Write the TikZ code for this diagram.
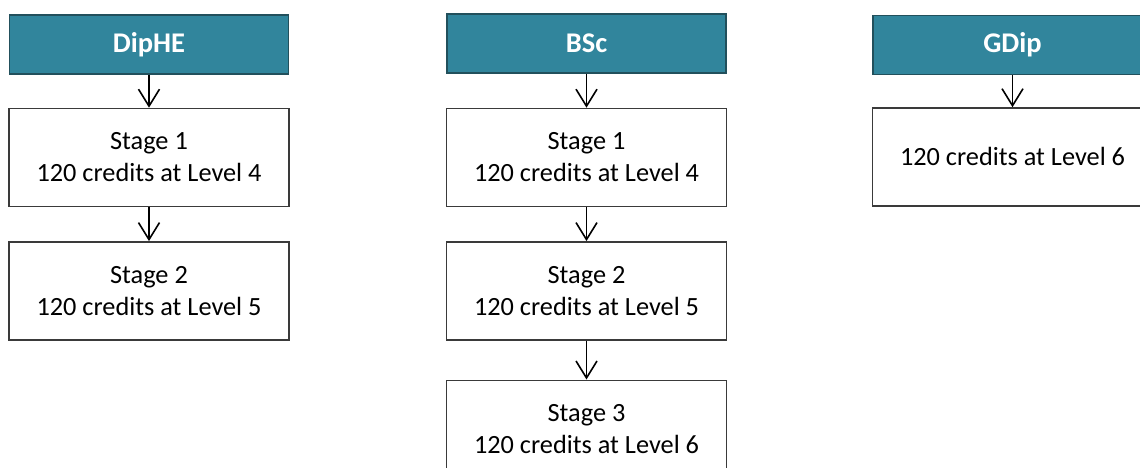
\documentclass[tikz,border=0pt]{standalone}
\usepackage{fontspec}
\setmainfont{Carlito}
\usepackage{xcolor}
\usetikzlibrary{arrows.meta,positioning}
\definecolor{awardteal}{HTML}{31859C}
\definecolor{awardedge}{HTML}{22505C}
\definecolor{boxedge}{HTML}{3A3A3A}
\tikzset{
    award/.style={draw=awardedge,fill=awardteal,line width=1.4pt,
      minimum width=279pt,minimum height=59pt,inner sep=0pt,
      text=white,font=\fontsize{28.5}{34}\selectfont\bfseries},
    stagebox/.style={draw=boxedge,fill=white,line width=1.4pt,
      minimum width=280pt,minimum height=98pt,inner sep=0pt,
      align=center,font=\fontsize{26.3}{32}\selectfont},
    flowarrow/.style={-{Straight Barb[length=17pt,width=21pt,line width=1.6pt]},
      draw=black,line width=1.6pt}
}
\begin{document}
\begin{tikzpicture}[x=1pt,y=-1pt]
  \useasboundingbox (0,0) rectangle (1140,468);
  \clip (0,0) rectangle (1140,468);
  % DipHE
  \node[award] (dip) at (149,44.5) {DipHE};
  \node[stagebox,below=33pt of dip] (dip1) {Stage 1\\120 credits at Level 4};
  \node[stagebox,below=34pt of dip1] (dip2) {Stage 2\\120 credits at Level 5};
  % BSc
  \node[award] (bsc) at (586.5,43.5) {BSc};
  \node[stagebox,below=34pt of bsc] (bsc1) {Stage 1\\120 credits at Level 4};
  \node[stagebox,below=34pt of bsc1] (bsc2) {Stage 2\\120 credits at Level 5};
  \node[stagebox,below=39pt of bsc2] (bsc3) {Stage 3\\120 credits at Level 6};
  % GDip
  \node[award] (gdip) at (1012.5,45) {GDip};
  \node[stagebox,below=32pt of gdip] (gdip1) {120 credits at Level 6};
  % arrows
  \draw[flowarrow] (dip) -- (dip1);
  \draw[flowarrow] (dip1) -- (dip2);
  \draw[flowarrow] (bsc) -- (bsc1);
  \draw[flowarrow] (bsc1) -- (bsc2);
  \draw[flowarrow] (bsc2) -- (bsc3);
  \draw[flowarrow] (gdip) -- (gdip1);
\end{tikzpicture}
\end{document}
